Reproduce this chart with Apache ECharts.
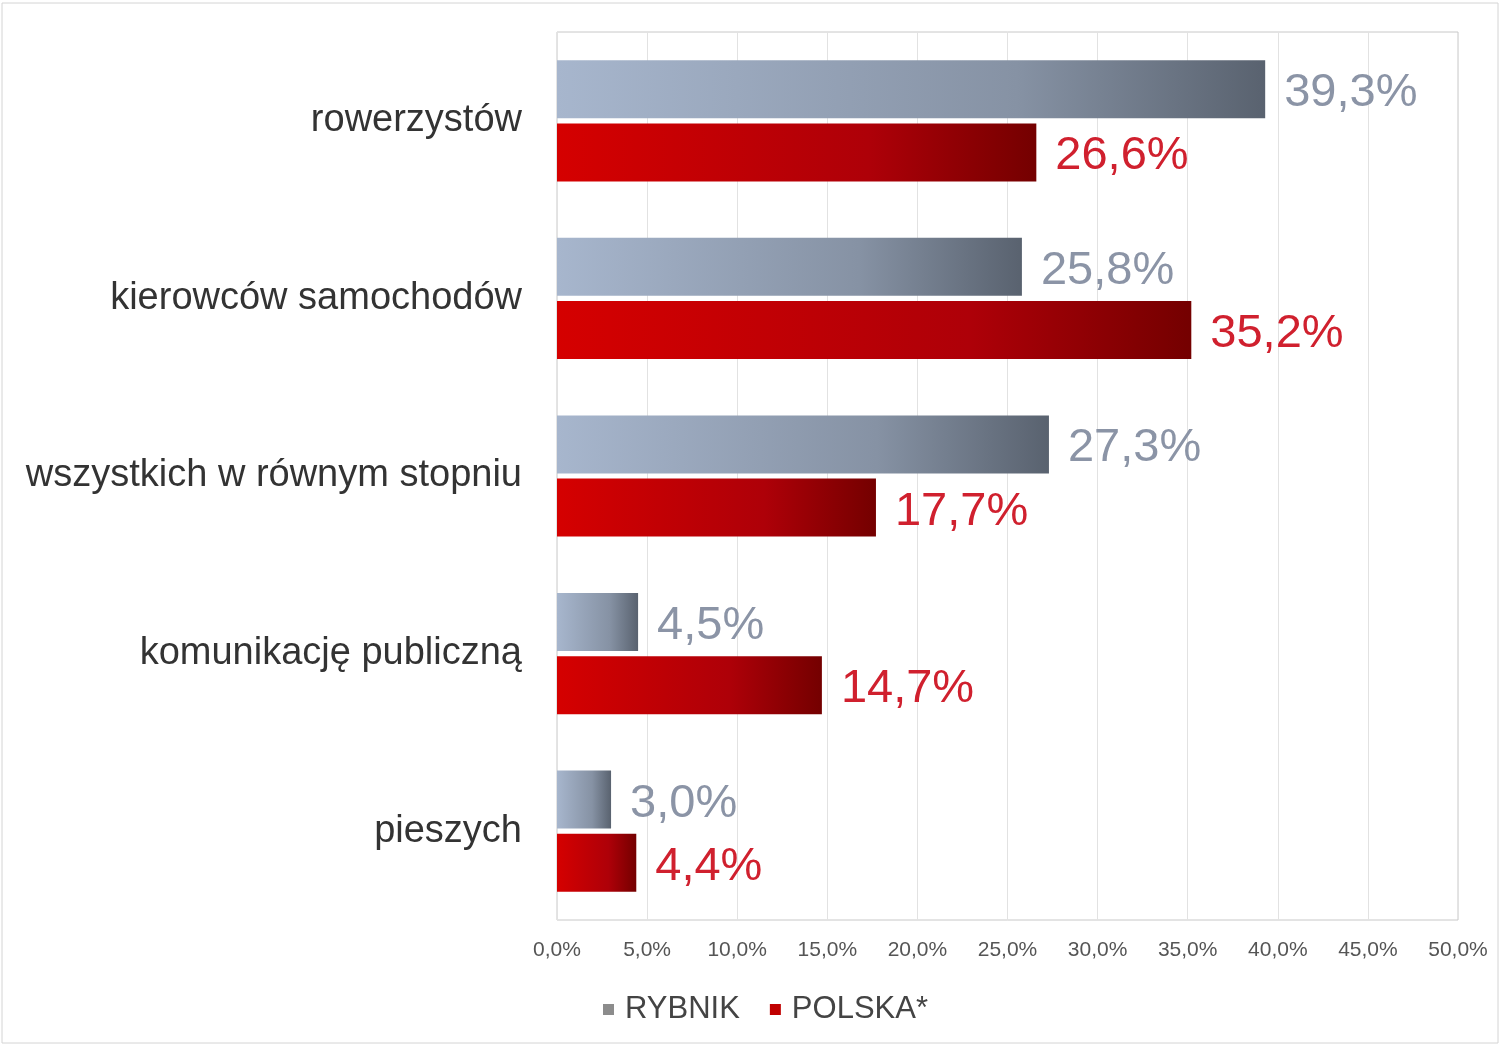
<!DOCTYPE html>
<html>
<head>
<meta charset="utf-8">
<script src="https://cdn.jsdelivr.net/npm/echarts@6/dist/echarts.min.js"></script>
<style>
html,body{margin:0;padding:0;background:#fff;}
#chart{width:1501px;height:1047px;}
</style>
</head>
<body>
<div id="chart"></div>
<script>
const categories = ['rowerzystów', 'kierowców samochodów', 'wszystkich w równym stopniu', 'komunikację publiczną', 'pieszych'];
const rybnik = [39.3, 25.8, 27.3, 4.5, 3.0];
const polska = [26.6, 35.2, 17.7, 14.7, 4.4];
const seriesNames = ['RYBNIK', 'POLSKA*'];
const axisTicks = [0, 5, 10, 15, 20, 25, 30, 35, 40, 45, 50];

const fmt = v => v.toFixed(1).replace('.', ',') + '%';
const chart = echarts.init(document.getElementById('chart'));
chart.setOption({
  backgroundColor: '#fff',
  animation: false,
  graphic: [{
    type: 'rect', shape: {x: 2, y: 3, width: 1496, height: 1040},
    style: {fill: 'none', stroke: '#d4d4d4', lineWidth: 1}, silent: true
  }],
  grid: {left: 557, right: 43, top: 32, bottom: 127, show: true, borderColor: '#c8c8c8', borderWidth: 1},
  legend: {
    data: [
      {name: seriesNames[0], itemStyle: {color: '#8c8c8c'}},
      {name: seriesNames[1], itemStyle: {color: '#c00000'}}
    ],
    left: 598, top: 989, itemWidth: 11, itemHeight: 11, itemGap: 30,
    icon: 'rect',
    textStyle: {fontFamily: 'Liberation Sans Narrow, Liberation Sans', fontSize: 31, color: '#444', padding: [0, 0, 0, 6]}
  },
  xAxis: {
    type: 'value', min: axisTicks[0], max: axisTicks[axisTicks.length - 1], interval: 5,
    axisLine: {show: false}, axisTick: {show: false},
    splitLine: {lineStyle: {color: '#e2e2e2', width: 1}},
    axisLabel: {formatter: v => fmt(v), fontFamily: 'Liberation Sans Narrow, Liberation Sans', fontSize: 21, color: '#555', margin: 20}
  },
  yAxis: {
    type: 'category', data: categories, inverse: true,
    axisLine: {show: false}, axisTick: {show: false},
    axisLabel: {fontFamily: 'Liberation Sans', fontSize: 38, color: '#333', margin: 35}
  },
  series: [
    {
      name: seriesNames[0], type: 'bar', data: rybnik, barWidth: 58, barGap: '9%',
      itemStyle: {
        color: new echarts.graphic.LinearGradient(0, 0, 1, 0, [
          {offset: 0, color: '#a7b6cd'}, {offset: 0.65, color: '#8692a4'}, {offset: 1, color: '#59626f'}
        ])
      },
      label: {show: true, position: 'right', distance: 19, offset: [0, 4], formatter: p => fmt(p.value),
        fontFamily: 'Liberation Sans', fontSize: 47, color: '#8b94a6'}
    },
    {
      name: seriesNames[1], type: 'bar', data: polska, barWidth: 58,
      itemStyle: {
        color: new echarts.graphic.LinearGradient(0, 0, 1, 0, [
          {offset: 0, color: '#d50000'}, {offset: 0.65, color: '#ae0008'}, {offset: 1, color: '#740000'}
        ])
      },
      label: {show: true, position: 'right', distance: 19, offset: [0, 4], formatter: p => fmt(p.value),
        fontFamily: 'Liberation Sans', fontSize: 47, color: '#d0202e'}
    }
  ],
  color: ['#8c8c8c', '#c00000']
});
</script>
</body>
</html>
